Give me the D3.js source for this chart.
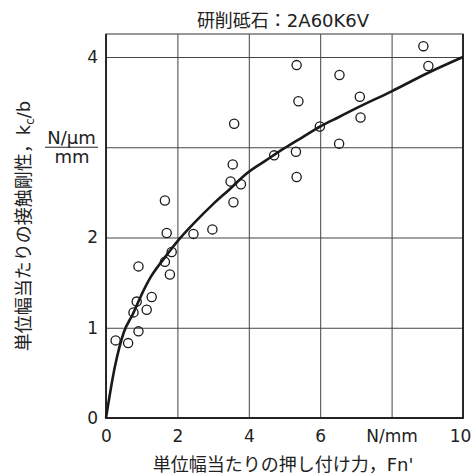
<!DOCTYPE html>
<html>
<head>
<meta charset="utf-8">
<script src="https://cdn.jsdelivr.net/npm/d3@7"></script>
<style>
  body { margin: 0; background: #fff; }
  text { font-family: "DejaVu Sans", "Noto Sans CJK JP", sans-serif; fill: #222; }
</style>
</head>
<body>
<div id="chart"></div>
<script>
// Data
const xTicks = [0, 2, 4, 6, 8, 10];
const xTickLabels = ["0", "2", "4", "6", "N/mm", "10"];
const yTicks = [0, 1, 2, 3, 4];
const yTickLabels = ["0", "1", "2", "", "4"];

const pointsX = [0.27, 0.62, 0.91, 0.77, 1.14, 0.86, 1.28, 0.91, 1.65, 1.79, 1.84, 1.70, 1.65, 2.45, 2.98,
                 3.55, 3.49, 3.78, 3.57, 3.59, 4.71, 5.32, 5.34, 5.34, 5.39, 5.99, 6.54, 6.53, 7.11, 7.13, 8.89, 9.03];
const pointsY = [0.86, 0.83, 0.96, 1.17, 1.20, 1.29, 1.34, 1.68, 1.73, 1.59, 1.84, 2.05, 2.41, 2.04, 2.09,
                 2.81, 2.62, 2.59, 2.39, 3.26, 2.91, 2.95, 2.67, 3.91, 3.51, 3.23, 3.80, 3.04, 3.56, 3.33, 4.12, 3.90];

const curveX = [0, 0.25, 0.5, 0.75, 1.0, 1.25, 1.65, 2.07, 2.54, 3.0, 3.45, 3.94, 4.5, 5.0, 5.5, 6.0, 6.5, 7.0, 8.0, 9.0, 10];
const curveY = [0, 0.57, 0.95, 1.15, 1.37, 1.56, 1.78, 1.99, 2.19, 2.37, 2.53, 2.71, 2.86, 2.99, 3.11, 3.23, 3.33, 3.43, 3.62, 3.82, 4.0];

const W = 473, H = 475;
const plot = { left: 106, right: 463, top: 34, bottom: 418 };

const svg = d3.select("#chart").append("svg")
  .attr("width", W)
  .attr("height", H);

const x = d3.scaleLinear().domain([0, 10]).range([plot.left, plot.right]);
const y = d3.scaleLinear().domain([0, 4]).range([plot.bottom, plot.bottom - 4 * 90.25]);

// Grid + ticks via axes
const xAxis = svg.append("g")
  .attr("transform", "translate(0," + plot.bottom + ")")
  .call(d3.axisBottom(x).tickValues(xTicks)
    .tickSize(-(plot.bottom - plot.top))
    .tickPadding(12)
    .tickFormat((d, i) => xTickLabels[i]));
xAxis.select(".domain").remove();
xAxis.selectAll("line").attr("stroke", "#444").attr("stroke-width", 1);
xAxis.selectAll("text").attr("font-size", "17px").attr("fill", "#222")
  .attr("font-family", "DejaVu Sans, sans-serif");
xAxis.selectAll("text").filter((d, i) => i === xTicks.length - 1).attr("dx", "-3");

const yAxis = svg.append("g")
  .attr("transform", "translate(" + plot.left + ",0)")
  .call(d3.axisLeft(y).tickValues(yTicks)
    .tickSize(-(plot.right - plot.left))
    .tickPadding(8)
    .tickFormat((d, i) => yTickLabels[i]));
yAxis.select(".domain").remove();
yAxis.selectAll("line").attr("stroke", "#444").attr("stroke-width", 1);
yAxis.selectAll("text").attr("font-size", "17px").attr("fill", "#222")
  .attr("font-family", "DejaVu Sans, sans-serif");

// Frame
svg.append("rect")
  .attr("x", plot.left).attr("y", plot.top)
  .attr("width", plot.right - plot.left).attr("height", plot.bottom - plot.top)
  .attr("fill", "none").attr("stroke", "#555").attr("stroke-width", 1.2);
svg.append("path")
  .attr("d", "M" + plot.left + "," + plot.top + "V" + plot.bottom + "H" + plot.right + "V" + plot.top)
  .attr("fill", "none").attr("stroke", "#222").attr("stroke-width", 1.8);

// Fitted curve
const line = d3.line()
  .x((d, i) => x(curveX[i]))
  .y((d, i) => y(curveY[i]))
  .curve(d3.curveMonotoneX);
svg.append("path")
  .datum(curveX)
  .attr("d", line)
  .attr("fill", "none")
  .attr("stroke", "#1a1a1a")
  .attr("stroke-width", 2.6);

// Measured points
svg.selectAll("circle.pt")
  .data(pointsX)
  .enter()
  .append("circle")
  .attr("class", "pt")
  .attr("cx", (d, i) => x(pointsX[i]))
  .attr("cy", (d, i) => y(pointsY[i]))
  .attr("r", 4.6)
  .attr("fill", "none")
  .attr("stroke", "#1a1a1a")
  .attr("stroke-width", 1.3);

// Title
svg.append("text")
  .attr("x", 283).attr("y", 27)
  .attr("text-anchor", "middle")
  .attr("font-size", "18px")
  .text("研削砥石：2A60K6V");

// X label
svg.append("text")
  .attr("x", 283).attr("y", 471)
  .attr("text-anchor", "middle")
  .attr("font-size", "18px")
  .text("単位幅当たりの押し付け力，Fn'");

// Y label
const yl = svg.append("text")
  .attr("transform", "translate(30,226) rotate(-90)")
  .attr("text-anchor", "middle")
  .attr("font-size", "18px");
yl.append("tspan").text("単位幅当たりの接触剛性，k");
yl.append("tspan").attr("font-size", "12px").attr("dy", "4").text("c");
yl.append("tspan").attr("dy", "-4").text("/b");

// Unit fraction at y = 3
const fy = y(3);
svg.append("text")
  .attr("x", 71.5).attr("y", fy - 3)
  .attr("text-anchor", "middle")
  .attr("font-size", "18px")
  .text("N/μm");
svg.append("line")
  .attr("x1", 45).attr("x2", 98)
  .attr("y1", fy).attr("y2", fy)
  .attr("stroke", "#222").attr("stroke-width", 1.2);
svg.append("text")
  .attr("x", 72).attr("y", fy + 16)
  .attr("text-anchor", "middle")
  .attr("font-size", "18px")
  .text("mm");
</script>
</body>
</html>
